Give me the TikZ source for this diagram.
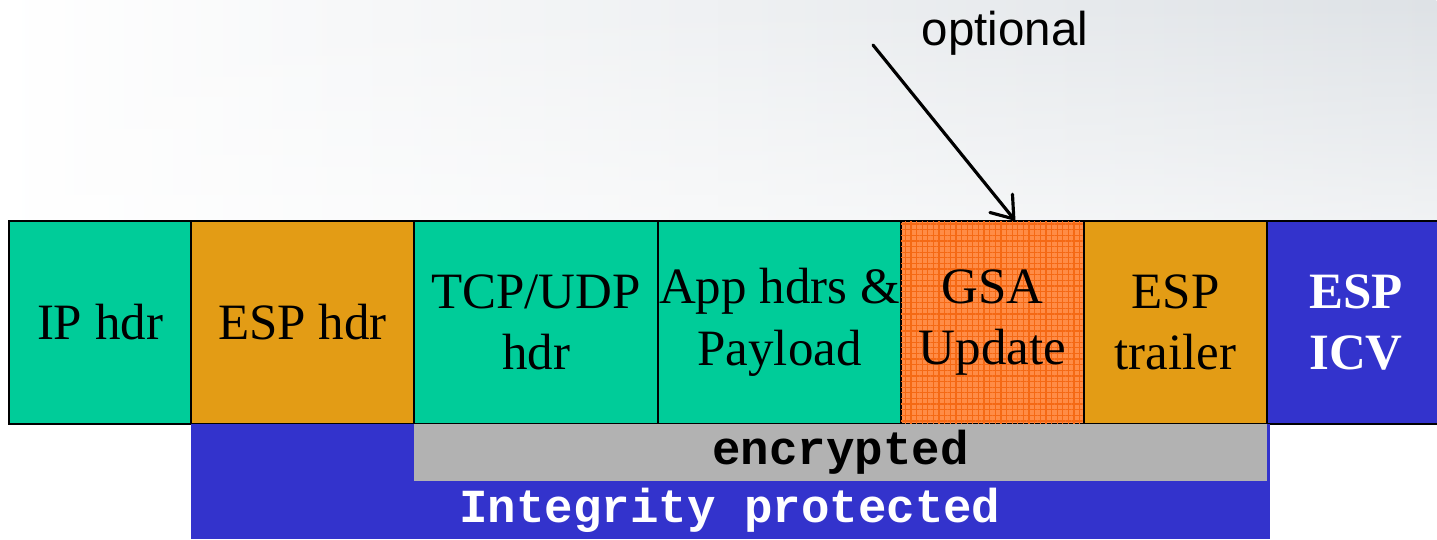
\documentclass[tikz,border=0pt]{standalone}
\usepackage{fontspec}
\setmainfont{Liberation Serif}
\newfontfamily\optfont{Liberation Sans}
\newfontfamily\barfont{Liberation Mono}
\usetikzlibrary{positioning,patterns.meta,arrows.meta,fadings}
\definecolor{hdrgreen}{RGB}{0,204,153}
\definecolor{espamber}{RGB}{227,156,21}
\definecolor{icvblue}{RGB}{51,51,204}
\definecolor{gsaorange}{RGB}{255,140,70}
\definecolor{gsagrid}{RGB}{245,105,20}
\definecolor{encgray}{RGB}{178,178,178}
\definecolor{bggray}{RGB}{222,226,230}
\tikzset{
  field/.style={draw=black, line width=0.6pt, minimum height=2.03cm, inner sep=0pt, outer sep=0pt, align=center, font=\fontsize{14.5}{17.5}\selectfont},
  barlabel/.style={font=\barfont\bfseries\fontsize{13.5}{16}\selectfont},
}
\begin{document}
\begin{tikzpicture}
\useasboundingbox (0,0) rectangle (14.37,5.39);
\fill[white] (0,0) rectangle (14.37,5.39); % page
\shade[left color=white, right color=bggray, path fading=south] (0,1.5) rectangle (14.37,5.39); % slide background
\node[field, fill=hdrgreen, minimum width=1.82cm, anchor=north west] (iphdr) at (0.09,3.18) {IP hdr};
\node[field, fill=espamber, minimum width=2.23cm, right=0pt of iphdr] (esphdr) {ESP hdr};
\node[field, fill=hdrgreen, minimum width=2.44cm, right=0pt of esphdr] (tcphdr) {TCP/UDP\\hdr};
\node[field, fill=hdrgreen, minimum width=2.43cm, right=0pt of tcphdr] (payload) {\makebox[2.2cm]{App hdrs \&}\\Payload};
\node[field, fill=gsaorange, minimum width=1.83cm, right=0pt of payload,
      postaction={pattern={Lines[distance=1.6pt,angle=0,line width=0.35pt]}, pattern color=gsagrid},
      postaction={pattern={Lines[distance=1.6pt,angle=90,line width=0.35pt]}, pattern color=gsagrid}] (gsa) {GSA\\Update};
\node[field, fill=espamber, minimum width=1.83cm, right=0pt of gsa] (esptrl) {ESP\\trailer};
\node[field, fill=icvblue, text=white, minimum width=1.78cm, right=0pt of esptrl, font=\bfseries\fontsize{14.5}{17.5}\selectfont] (espicv) {ESP\\ICV};
\fill[icvblue] (esphdr.south west) rectangle (12.70,0); % integrity bar
\node[fill=encgray, minimum width=8.53cm, minimum height=0.57cm, inner sep=0pt, outer sep=0pt, anchor=north west, barlabel] (encbar) at (tcphdr.south west) {encrypted};
\node[barlabel, text=white] (intlabel) at (7.30,0.29) {Integrity protected};
\node[font=\optfont\fontsize{13.5}{16}\selectfont, anchor=base] (optlabel) at (10.05,4.94) {optional};
\coordinate (arrowtail) at (8.73,4.94);
\draw[line width=0.9pt, line cap=round, -{Straight Barb[length=2mm,width=2.9mm,line cap=round]}] (arrowtail) -- ([xshift=2.3mm]gsa.north);
\end{tikzpicture}
\end{document}
